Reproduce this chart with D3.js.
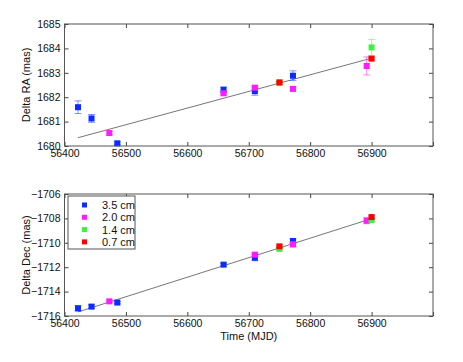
<!DOCTYPE html>
<html>
<head>
<meta charset="utf-8">
<script src="https://cdn.jsdelivr.net/npm/d3@7"></script>
<style>
  body { margin: 0; background: #fff; }
  svg { display: block; font-family: "Liberation Sans", Arial, sans-serif; }
</style>
</head>
<body>
<div id="chart"></div>
<script>
// wavelengths and their colours
const bands = ['3.5 cm', '2.0 cm', '1.4 cm', '0.7 cm'];
const bandColors = ['#0a2cff', '#ff1aff', '#40f040', '#ff0000'];

// epochs (MJD) per band
const mjd35 = [56422, 56444, 56486, 56659, 56710, 56772];
const mjd20 = [56473, 56659, 56710, 56772, 56892];
const mjd14 = [56750, 56900];
const mjd07 = [56750, 56900];

// Delta RA (mas) and errors
const ra35 = [1681.59, 1681.13, 1680.11, 1682.30, 1682.25, 1682.88];
const ra35Err = [0.26, 0.16, 0.06, 0.12, 0.17, 0.2];
const ra20 = [1680.53, 1682.16, 1682.39, 1682.34, 1683.28];
const ra20Err = [0.08, 0.07, 0.07, 0.09, 0.37];
const ra14 = [1682.58, 1684.04];
const ra14Err = [0.04, 0.33];
const ra07 = [1682.61, 1683.58];
const ra07Err = [0.03, 0.05];

// Delta Dec (mas) and errors
const dec35 = [-1715.37, -1715.23, -1714.9, -1711.79, -1711.22, -1709.85];
const dec35Err = [0.22, 0.15, 0.1, 0.12, 0.25, 0.18];
const dec20 = [-1714.8, -1710.97, -1710.13, -1708.19];
const dec20Mjd = [56473, 56710, 56772, 56892];
const dec20Err = [0.1, 0.12, 0.2, 0.25];
const dec14 = [-1710.5, -1708.13];
const dec14Err = [0.1, 0.12];
const dec07 = [-1710.29, -1707.89];
const dec07Err = [0.1, 0.1];

// fitted proper-motion lines: [start, end]
const fitMjd = [56422, 56900];
const fitRa = [1680.34, 1683.6];
const fitDec = [-1715.67, -1708.02];

const xTicks = [56400, 56500, 56600, 56700, 56800, 56900, 57000];
const xLabels = [56400, 56500, 56600, 56700, 56800, 56900];
const raTicks = [1680, 1681, 1682, 1683, 1684, 1685];
const decTicks = [-1716, -1714, -1712, -1710, -1708, -1706];

const width = 463, height = 362;
const left = 64.5, right = 433;

const svg = d3.select('#chart').append('svg')
  .attr('width', width)
  .attr('height', height);

const x = d3.scaleLinear().domain([56400, 57000]).range([left, right]);

function zip(xs, ys, es, band) {
  return xs.map((m, i) => ({ mjd: m, v: ys[i], e: es[i], band: band }));
}

function panel(opts) {
  const y = d3.scaleLinear().domain(opts.domain).range([opts.bottom, opts.top]);
  const g = svg.append('g');

  // fit line
  g.append('line')
    .attr('x1', x(fitMjd[0])).attr('y1', y(opts.fit[0]))
    .attr('x2', x(fitMjd[1])).attr('y2', y(opts.fit[1]))
    .attr('stroke', '#777').attr('stroke-width', 1);

  opts.series.forEach(s => {
    const col = bandColors[s[0].band];
    const pts = g.append('g').selectAll('g').data(s).enter().append('g');
    pts.append('line')
      .attr('x1', d => x(d.mjd)).attr('x2', d => x(d.mjd))
      .attr('y1', d => y(d.v - d.e)).attr('y2', d => y(d.v + d.e))
      .attr('stroke', col).attr('stroke-opacity', 0.5);
    [-1, 1].forEach(sg => {
      pts.append('line')
        .attr('x1', d => x(d.mjd) - 3.5).attr('x2', d => x(d.mjd) + 3.5)
        .attr('y1', d => y(d.v + sg * d.e)).attr('y2', d => y(d.v + sg * d.e))
        .attr('stroke', col).attr('stroke-opacity', 0.5);
    });
    pts.append('rect')
      .attr('x', d => x(d.mjd) - 3).attr('y', d => y(d.v) - 3)
      .attr('width', 6).attr('height', 6)
      .attr('fill', col);
  });

  // axes: labels left & bottom, inward ticks on all sides
  const tickCol = '#444';
  g.append('g')
    .attr('transform', `translate(0,${opts.bottom})`)
    .call(d3.axisBottom(x).tickValues(xTicks).tickSize(-4).tickPadding(4)
      .tickFormat(d => xLabels.includes(d) ? d : ''));
  g.append('g')
    .attr('transform', `translate(0,${opts.top})`)
    .call(d3.axisTop(x).tickValues(xTicks).tickSize(-4).tickFormat(''));
  g.append('g')
    .attr('transform', `translate(${left},0)`)
    .call(d3.axisLeft(y).tickValues(opts.ticks).tickSize(-4).tickPadding(4)
      .tickFormat(d => String(d).replace('-', '\u2212')));
  g.append('g')
    .attr('transform', `translate(${right},0)`)
    .call(d3.axisRight(y).tickValues(opts.ticks).tickSize(-4).tickFormat(''));
  g.selectAll('.domain').remove();
  g.selectAll('.tick line').attr('stroke', tickCol);
  g.selectAll('.tick text').attr('fill', '#111').attr('font-size', 10.5)
    .attr('font-family', '"Liberation Sans", Arial, sans-serif');

  g.append('rect')
    .attr('x', left).attr('y', opts.top)
    .attr('width', right - left).attr('height', opts.bottom - opts.top)
    .attr('fill', 'none').attr('stroke', '#555').attr('stroke-width', 1);

  g.append('text')
    .attr('transform', `translate(30,${(opts.top + opts.bottom) / 2}) rotate(-90)`)
    .attr('text-anchor', 'middle')
    .attr('font-size', 11).attr('fill', '#111')
    .text(opts.label);
  return { g, y };
}

panel({
  top: 24, bottom: 146,
  domain: [1680, 1685],
  ticks: raTicks,
  fit: fitRa,
  label: 'Delta RA (mas)',
  series: [
    zip(mjd35, ra35, ra35Err, 0),
    zip(mjd20, ra20, ra20Err, 1),
    zip(mjd14, ra14, ra14Err, 2),
    zip(mjd07, ra07, ra07Err, 3)
  ]
});

panel({
  top: 194, bottom: 316,
  domain: [-1716, -1706],
  ticks: decTicks,
  fit: fitDec,
  label: 'Delta Dec (mas)',
  series: [
    zip(mjd35, dec35, dec35Err, 0),
    zip(dec20Mjd, dec20, dec20Err, 1),
    zip(mjd14, dec14, dec14Err, 2),
    zip(mjd07, dec07, dec07Err, 3)
  ]
});

svg.append('text')
  .attr('x', (left + right) / 2).attr('y', 340)
  .attr('text-anchor', 'middle')
  .attr('font-size', 11).attr('fill', '#111')
  .text('Time (MJD)');

// legend
const lg = svg.append('g').attr('transform', 'translate(68,196)');
lg.append('rect')
  .attr('width', 67).attr('height', 53)
  .attr('fill', '#fff').attr('stroke', '#555');
const rows = lg.selectAll('g.row').data(bands).enter().append('g')
  .attr('transform', (d, i) => `translate(0,${9 + i * 12.3})`);
rows.append('rect')
  .attr('x', 14).attr('y', -2.5).attr('width', 5).attr('height', 5)
  .attr('fill', (d, i) => bandColors[i]);
rows.append('text')
  .attr('x', 34).attr('y', 4)
  .attr('font-size', 11).attr('fill', '#111')
  .text(d => d);
</script>
</body>
</html>
